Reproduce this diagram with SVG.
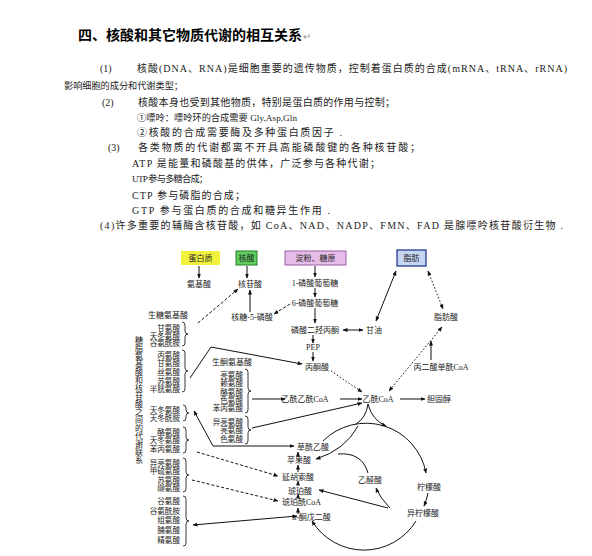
<svg xmlns="http://www.w3.org/2000/svg" width="592" height="556" viewBox="0 0 592 556">
<defs>
<marker id="ah" viewBox="0 0 10 10" refX="9" refY="5" markerWidth="5" markerHeight="5" orient="auto-start-reverse"><path d="M0,1 L10,5 L0,9 z" fill="#111"/></marker>
<style>
.p{font-family:"Liberation Serif","Noto Sans CJK SC",serif;font-size:10px;fill:#222}
.q{font-size:9.2px}
.h{font-family:"Liberation Sans","Noto Sans CJK SC",sans-serif;font-size:14px;font-weight:bold;fill:#000}
.t{font-family:"Liberation Serif","Noto Sans CJK SC",serif;font-size:8px;fill:#222}
.s{font-family:"Liberation Serif","Noto Sans CJK SC",serif;font-size:7.6px;fill:#222;text-anchor:end}
.m{text-anchor:middle}
.e{fill:none;stroke:#111;stroke-width:1}
.a{marker-end:url(#ah)}
.b{marker-start:url(#ah);marker-end:url(#ah)}
.d{stroke-dasharray:3,2}
.o{stroke-dasharray:1.5,2}
.br{fill:none;stroke:#222;stroke-width:0.9}
</style>
</defs>
<rect width="592" height="556" fill="#fff"/>
<g id="text-block">
<text class="h" x="78" y="40">四、核酸和其它物质代谢的相互关系</text>
<text x="303" y="40" font-family="Liberation Sans" font-size="10" fill="#999">↵</text>
<text class="p" x="100" y="72">(1)</text>
<text class="p" x="137" y="72" textLength="430" lengthAdjust="spacing">核酸(DNA、RNA)是细胞重要的遗传物质，控制着蛋白质的合成(mRNA、tRNA、rRNA)</text>
<text class="p q" x="64" y="89" textLength="119" lengthAdjust="spacing">影响细胞的成分和代谢类型；</text>
<text class="p" x="102" y="106">(2)</text>
<text class="p" x="138" y="106" textLength="257" lengthAdjust="spacing">核酸本身也受到其他物质，特别是蛋白质的作用与控制；</text>
<text class="p q" x="137" y="121" textLength="160" lengthAdjust="spacing">①嘌呤：嘌呤环的合成需要 Gly,Asp,Gln</text>
<text class="p" x="137" y="136" textLength="205" lengthAdjust="spacing">②核酸的合成需要酶及多种蛋白质因子 .</text>
<text class="p" x="108" y="151">(3)</text>
<text class="p" x="138" y="151" textLength="282" lengthAdjust="spacing">各类物质的代谢都离不开具高能磷酸键的各种核苷酸；</text>
<text class="p" x="132" y="167" textLength="248" lengthAdjust="spacing">ATP 是能量和磷酸基的供体，广泛参与各种代谢；</text>
<text class="p q" x="132" y="182" textLength="76" lengthAdjust="spacing">UTP 参与多糖合成；</text>
<text class="p" x="132" y="199" textLength="113" lengthAdjust="spacing">CTP 参与磷脂的合成；</text>
<text class="p" x="132" y="214" textLength="198" lengthAdjust="spacing">GTP 参与蛋白质的合成和糖异生作用 .</text>
<text class="p" x="100" y="229" textLength="463" lengthAdjust="spacing">(4)许多重要的辅酶含核苷酸，如 CoA、NAD、NADP、FMN、FAD 是腺嘌呤核苷酸衍生物 .</text>
</g>
<g id="boxes">
<g id="n-protein"><rect x="181" y="251" width="39" height="14" fill="#f2f23c"/><text class="t m" x="200.5" y="261">蛋白质</text></g>
<g id="n-nucleic"><rect x="236" y="251" width="21" height="14" fill="#5fcf5f" stroke="#2a7a2a" stroke-width="1"/><text class="t m" x="246.5" y="261">核酸</text></g>
<g id="n-starch"><rect x="285" y="251" width="61" height="14" fill="#e6bde8" stroke="#9a60a6" stroke-width="1"/><text class="t m" x="315.5" y="261">淀粉、糖原</text></g>
<g id="n-fat"><rect x="397" y="250" width="29" height="16" fill="#c6d6f0" stroke="#1a2a8a" stroke-width="1.2"/><text class="t m" x="411.5" y="261">脂肪</text></g>
</g>
<g id="labels">
<text class="t m" x="199" y="287">氨基酸</text>
<text class="t m" x="250" y="287">核苷酸</text>
<text class="t m" x="315" y="286">1-磷酸葡萄糖</text>
<text class="t m" x="315" y="306">6-磷酸葡萄糖</text>
<text class="t m" x="252" y="320">核糖-5-磷酸</text>
<text class="t m" x="315" y="333">磷酸二羟丙酮</text>
<text class="t" x="366" y="333">甘油</text>
<text class="t m" x="446" y="320">脂肪酸</text>
<text class="t m" x="313" y="350">PEP</text>
<text class="t m" x="317" y="370">丙酮酸</text>
<text class="t m" x="441" y="370">丙二酸单酰CoA</text>
<text class="t m" x="305" y="402">乙酰乙酰CoA</text>
<text class="t m" x="378" y="402">乙酰CoA</text>
<text class="t" x="427" y="402">胆固醇</text>
<text class="t" x="297" y="450">草酰乙酸</text>
<text class="t" x="287" y="463">苹果酸</text>
<text class="t" x="282" y="480">延胡索酸</text>
<text class="t" x="288" y="494">琥珀酸</text>
<text class="t" x="282" y="505">琥珀酰CoA</text>
<text class="t" x="292" y="520">α-酮戊二酸</text>
<text class="t" x="358" y="483">乙醛酸</text>
<text class="t" x="417" y="490">柠檬酸</text>
<text class="t" x="407" y="516">异柠檬酸</text>
</g>
<g id="amino-acids">
<text class="t" x="148" y="318">生糖氨基酸</text>
<text class="s" x="180" y="331">甘氨酸</text>
<text class="s" x="180" y="338.5">天冬氨酸</text>
<text class="s" x="180" y="346">谷氨酰胺</text>
<text class="s" x="180" y="358">丙氨酸</text>
<text class="s" x="180" y="366">甘氨酸</text>
<text class="s" x="180" y="375">丝氨酸</text>
<text class="s" x="180" y="384">苏氨酸</text>
<text class="s" x="180" y="392">半胱氨酸</text>
<text class="s" x="180" y="413">天冬氨酸</text>
<text class="s" x="180" y="421">天冬酰胺</text>
<text class="s" x="180" y="435">酪氨酸</text>
<text class="s" x="180" y="443">天冬氨酸</text>
<text class="s" x="180" y="452">苯丙氨酸</text>
<text class="s" x="180" y="466">异亮氨酸</text>
<text class="s" x="180" y="474">甲硫氨酸</text>
<text class="s" x="180" y="483">苏氨酸</text>
<text class="s" x="180" y="491">缬氨酸</text>
<text class="s" x="180" y="504">谷氨酸</text>
<text class="s" x="180" y="513.5">谷氨酰胺</text>
<text class="s" x="180" y="523">组氨酸</text>
<text class="s" x="180" y="533">脯氨酸</text>
<text class="s" x="180" y="543">精氨酸</text>
<text class="t" x="212" y="365">生酮氨基酸</text>
<text class="s" x="243" y="378">亮氨酸</text>
<text class="s" x="243" y="386">赖氨酸</text>
<text class="s" x="243" y="395">酪氨酸</text>
<text class="s" x="243" y="403">色氨酸</text>
<text class="s" x="243" y="411">苯丙氨酸</text>
<text class="s" x="243" y="425">异亮氨酸</text>
<text class="s" x="243" y="433">亮氨酸</text>
<text class="s" x="243" y="442">色氨酸</text>
<text class="t" x="138" y="336" font-size="7.6" style="writing-mode:vertical-rl">糖脂氨基酸和核苷酸之间的代谢联系</text>
<path class="br" d="M182,322 q3,0 3,3 v6 q0,3 3,3 q-3,0 -3,3 v6 q0,3 -3,3"/>
<path class="br" d="M182,350 q3,0 3,3 v15 q0,3 3,3 q-3,0 -3,3 v15 q0,3 -3,3"/>
<path class="br" d="M183,405 q3,0 3,3 v2 q0,3 3,3 q-3,0 -3,3 v2 q0,3 -3,3"/>
<path class="br" d="M183,427 q3,0 3,3 v7 q0,3 3,3 q-3,0 -3,3 v7 q0,3 -3,3"/>
<path class="br" d="M183,458 q3,0 3,3 v11 q0,3 3,3 q-3,0 -3,3 v11 q0,3 -3,3"/>
<path class="br" d="M183,496 q3,0 3,3 v19 q0,3 3,3 q-3,0 -3,3 v19 q0,3 -3,3"/>
<path class="br" d="M245,369 q3,0 3,3 v16 q0,3 3,3 q-3,0 -3,3 v16 q0,3 -3,3"/>
<path class="br" d="M245,416 q3,0 3,3 v8 q0,3 3,3 q-3,0 -3,3 v8 q0,3 -3,3"/>
</g>
<g id="connectors">
<path class="e a" d="M199,266 V278"/>
<path class="e a" d="M247,266 V278"/>
<path class="e a" d="M315,266 V277"/>
<path class="e a" d="M315,288 V297"/>
<path class="e a" d="M315,308 V323"/>
<path class="e a d" d="M290,304 L274,314"/>
<path class="e a" d="M250,312 V290"/>
<path class="e b" d="M343,330 H363"/>
<path class="e b" d="M376,321 L396,271"/>
<path class="e b o" d="M428,271 L443,309"/>
<path class="e b o" d="M442,327 L389,391"/>
<path class="e a" d="M431,360 V341"/>
<path class="e a" d="M313,335 V343"/>
<path class="e a" d="M313,352 V361"/>
<path class="e a o" d="M331,371 L362,392"/>
<path class="e a" d="M400,399 H425"/>
<path class="e a" d="M340,399 H362"/>
<path class="e a" d="M252,399 H285"/>
<path class="e a" d="M252,428 L362,403"/>
<path class="e a" d="M190,378 L211,347 L302,364"/>
<path class="e a d" d="M198,323 L238,289"/>
<path class="e b" d="M194,411 L213,446 L294,446"/>
<path class="e a d" d="M197,452 L278,476"/>
<path class="e a d" d="M192,480 L278,501"/>
<path class="e b" d="M193,525 L297,516"/>
<path class="e a" d="M323,441 A61,61 0 0 1 426,473"/>
<path class="e a" d="M428,493 A61,61 0 0 1 424,506"/>
<path class="e a" d="M416,521 A61,61 0 0 1 312,521"/>
<path class="e" d="M368,404 Q366,418 356,424"/>
<path class="e a" d="M368,404 Q372,420 386,426"/>
<path class="e a" d="M358,426 Q345,450 316,459"/>
<path class="e" d="M368,473 Q362,452 338,454"/>
<path class="e a" d="M390,508 Q380,498 376,488"/>
<path class="e a" d="M388,508 L319,490"/>
<path class="e a" d="M298,514 V508"/>
<path class="e a" d="M298,498 V494"/>
<path class="e a" d="M298,485 V481"/>
<path class="e a" d="M298,472 V465"/>
<path class="e a" d="M298,457 V452"/>
</g>
</svg>
